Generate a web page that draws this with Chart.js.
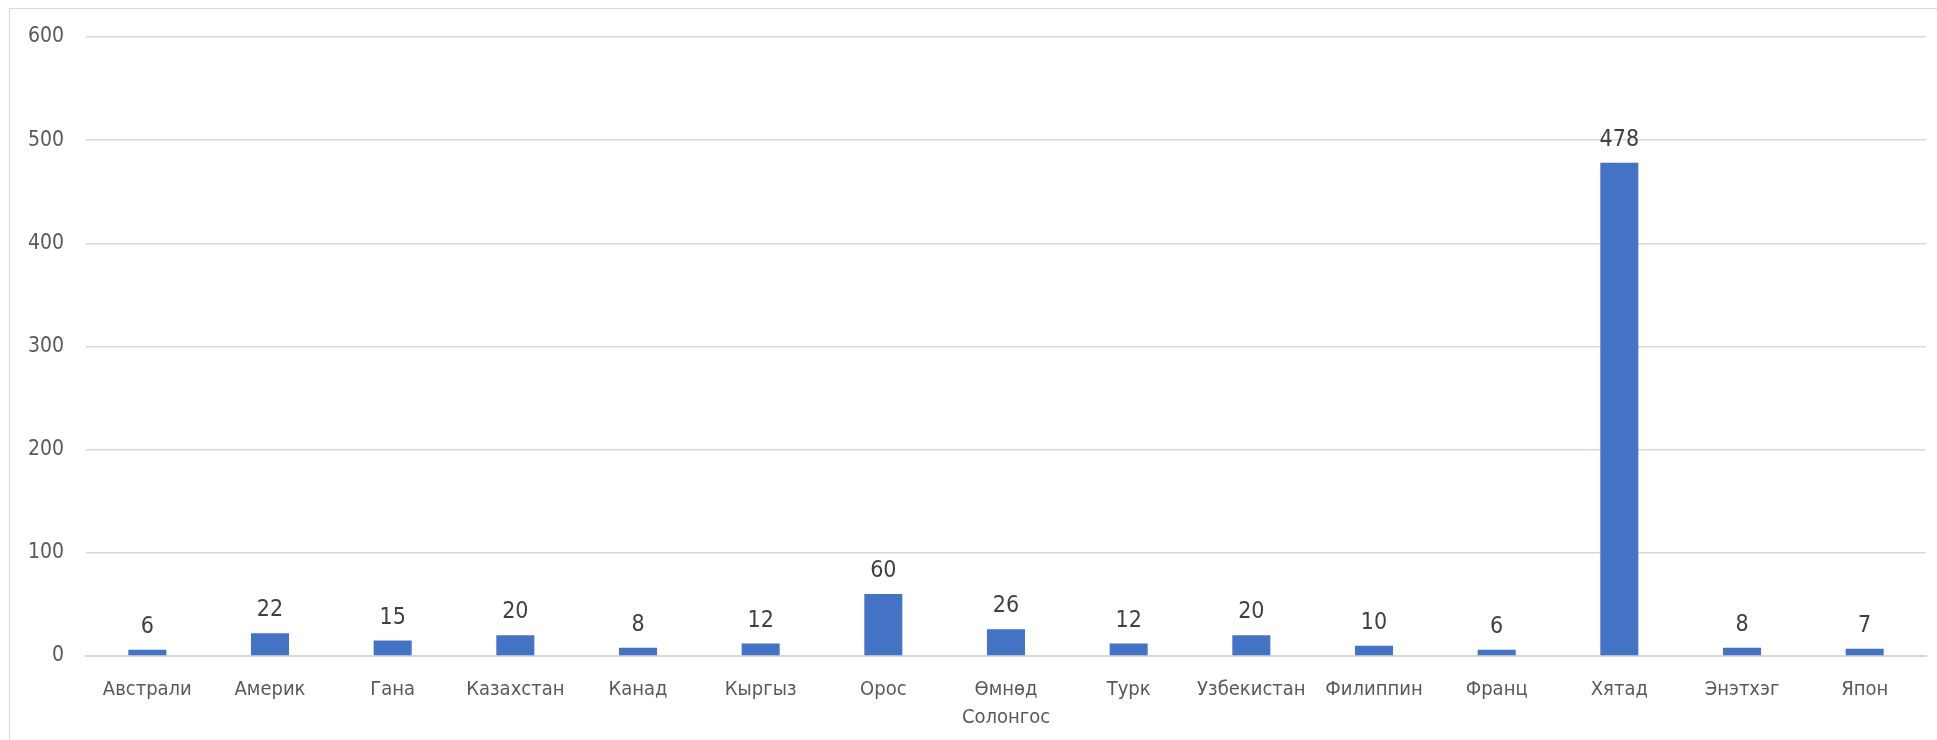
<!DOCTYPE html>
<html>
<head>
<meta charset="utf-8">
<script src="https://cdn.jsdelivr.net/npm/chart.js@4/dist/chart.umd.min.js"></script>
<style>
html, body { margin: 0; padding: 0; background: #fff; overflow: hidden; }
#wrap { position: relative; width: 1937px; height: 740px; }
#frame { position: absolute; left: 9px; top: 8px; width: 1940px; height: 740px; border: 1px solid #d9d9d9; box-sizing: border-box; }
canvas { position: absolute; left: 0; top: 0; }
</style>
</head>
<body>
<div id="wrap">
  <div id="frame"></div>
  <canvas id="myChart" width="1937" height="740"></canvas>
</div>
<script>
var countries = ['Австрали', 'Америк', 'Гана', 'Казахстан', 'Канад', 'Кыргыз', 'Орос',
    ['Өмнөд', 'Солонгос'], 'Турк', 'Узбекистан', 'Филиппин', 'Франц', 'Хятад', 'Энэтхэг', 'Япон'];
var students = [6, 22, 15, 20, 8, 12, 60, 26, 12, 20, 10, 6, 478, 8, 7];
var yTicks = [0, 100, 200, 300, 400, 500, 600];

var font = '"Liberation Sans Narrow", "DejaVu Sans Condensed", sans-serif';

// value labels above each bar
var barLabels = {
    id: 'barLabels',
    afterDatasetsDraw: function(chart) {
        var ctx = chart.ctx;
        var meta = chart.getDatasetMeta(0);
        ctx.save();
        ctx.font = '23px ' + font;
        ctx.fillStyle = '#404040';
        ctx.textAlign = 'center';
        ctx.textBaseline = 'alphabetic';
        meta.data.forEach(function(bar, i) {
            ctx.fillText(String(students[i]), bar.x, bar.y - 17);
        });
        ctx.restore();
    }
};

window.onload = function() {
    var ctx = document.getElementById('myChart').getContext('2d');
    window.myBar = new Chart(ctx, {
        type: 'bar',
        data: {
            labels: countries,
            datasets: [{
                data: students,
                backgroundColor: '#4472c4',
                borderColor: '#4472c4',
                borderWidth: 0,
                barPercentage: 0.31,
                categoryPercentage: 1
            }]
        },
        options: {
            responsive: false,
            animation: false,
            layout: { padding: { top: 37, right: 11, left: 0, bottom: 0 } },
            plugins: {
                legend: { display: false },
                tooltip: { enabled: false }
            },
            scales: {
                x: {
                    grid: { display: false, drawTicks: false },
                    border: { color: '#d9d9d9', width: 2 },
                    ticks: {
                        color: '#595959',
                        font: { family: font, size: 20, lineHeight: 1.4 },
                        padding: 20,
                        maxRotation: 0,
                        autoSkip: false
                    },
                    afterFit: function(s) { s.height = 84; }
                },
                y: {
                    min: 0,
                    max: 600,
                    afterBuildTicks: function(s) { s.ticks = yTicks.map(function(v) { return { value: v }; }); },
                    grid: { color: '#d9d9d9', lineWidth: 1.5, drawTicks: false },
                    border: { display: false },
                    ticks: {
                        color: '#595959',
                        font: { family: font, size: 21 },
                        padding: 22
                    },
                    afterFit: function(s) { s.width = 86; }
                }
            }
        },
        plugins: [barLabels]
    });
};
</script>
</body>
</html>
